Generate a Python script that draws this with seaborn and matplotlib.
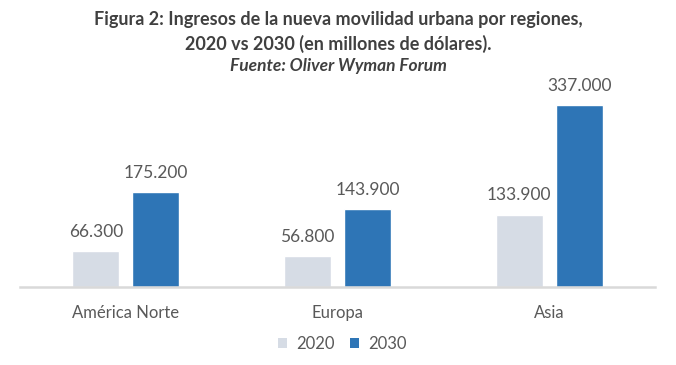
import matplotlib
matplotlib.use("Agg")
import matplotlib.pyplot as plt
import seaborn as sns
import pandas as pd
from matplotlib.patches import Patch

regiones = ["América Norte", "Europa", "Asia"]
anios = ["2020", "2030"]
valores_2020 = [66300, 56800, 133900]
valores_2030 = [175200, 143900, 337000]

df = pd.DataFrame({
    "Región": regiones * 2,
    "Año": [anios[0]] * 3 + [anios[1]] * 3,
    "Ingresos": valores_2020 + valores_2030,
})

sns.set_theme(style="white")
plt.rcParams["font.family"] = ["Lato", "DejaVu Sans"]

colores = {"2020": "#d6dce5", "2030": "#2e75b6"}
txt = "#595959"

fig = plt.figure(figsize=(6.76, 3.65), dpi=100)
ax = fig.add_axes([20 / 676, 78.5 / 365, 635 / 676, 215 / 365])

sns.barplot(data=df, x="Región", y="Ingresos", hue="Año", palette=colores,
            width=0.567, gap=0.217, ax=ax, legend=False, saturation=1)

ax.set_ylim(0, 400000)
ax.set_xlim(-0.5, 2.5)
for s in ["top", "right", "left"]:
    ax.spines[s].set_visible(False)
ax.spines["bottom"].set_color("#d9d9d9")
ax.spines["bottom"].set_linewidth(1.8)
ax.set_yticks([])
ax.set_xlabel("")
ax.set_ylabel("")
ax.tick_params(axis="x", length=0, pad=13, labelsize=12, labelcolor=txt)

for cont in ax.containers:
    labels = [f"{v:,.0f}".replace(",", ".") for v in cont.datavalues]
    ax.bar_label(cont, labels=labels, padding=8, fontsize=12.5, color=txt)

fig.text(0.5, 1 - 20 / 365, "Figura 2: Ingresos de la nueva movilidad urbana por regiones,",
         ha="center", va="center", fontsize=13, fontweight="bold", color="#404040")
fig.text(0.5, 1 - 44 / 365, "2020 vs 2030 (en millones de dólares).",
         ha="center", va="center", fontsize=13, fontweight="bold", color="#404040")
fig.text(0.5, 1 - 66 / 365, "Fuente: Oliver Wyman Forum",
         ha="center", va="center", fontsize=12.5, fontweight="bold", style="italic", color="#404040")

handles = [Patch(facecolor=colores[a], edgecolor="none", label=a) for a in anios]
fig.legend(handles=handles, loc="center", bbox_to_anchor=(342 / 676, 1 - 344 / 365),
           ncol=2, frameon=False, fontsize=12, labelcolor=txt,
           handlelength=0.55, handleheight=0.55, handletextpad=0.55, columnspacing=0.9)

fig.savefig("out.png", dpi=100)
